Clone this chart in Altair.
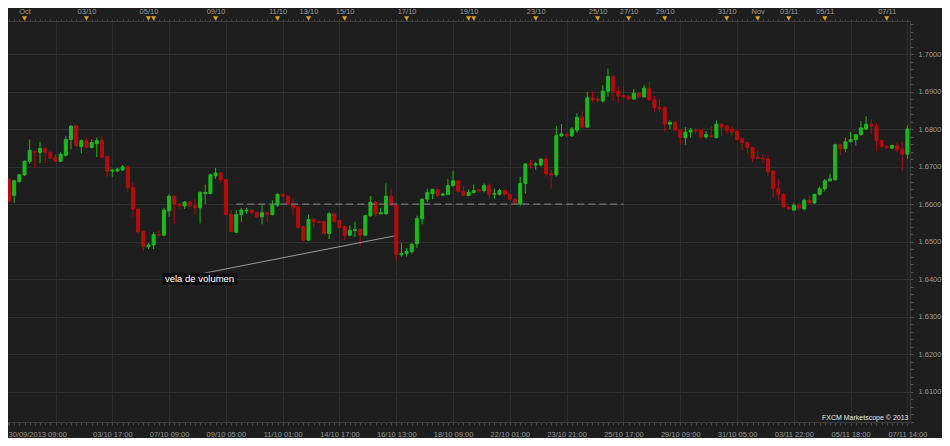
import altair as alt
import pandas as pd

# ---------------- data (4h candles) ----------------
opens = [1.6665,1.6623,1.6660,1.6678,1.6714,1.6740,1.6738,1.6748,1.6738,1.6725,
1.6714,1.6730,1.6772,1.6808,1.6753,1.6769,1.6751,1.6761,1.6769,1.6727,
1.6688,1.6688,1.6691,1.6699,1.6644,1.6587,1.6527,1.6486,1.6491,1.6519,
1.6517,1.6582,1.6621,1.6600,1.6595,1.6605,1.6595,1.6590,1.6628,1.6628,
1.6675,1.6683,1.6665,1.6572,1.6525,1.6572,1.6582,1.6584,1.6577,1.6566,
1.6577,1.6572,1.6597,1.6626,1.6621,1.6600,1.6592,1.6540,1.6504,1.6559,
1.6553,1.6553,1.6522,1.6574,1.6556,1.6540,1.6517,1.6530,1.6532,1.6517,
1.6569,1.6605,1.6574,1.6574,1.6621,1.6597,1.6465,1.6468,1.6473,1.6494,
1.6561,1.6613,1.6628,1.6639,1.6624,1.6626,1.6649,1.6662,1.6634,1.6623,
1.6631,1.6639,1.6636,1.6649,1.6626,1.6626,1.6636,1.6626,1.6613,1.6600,
1.6655,1.6707,1.6704,1.6704,1.6720,1.6681,1.6678,1.6782,1.6787,1.6782,
1.6797,1.6831,1.6805,1.6883,1.6880,1.6875,1.6901,1.6940,1.6901,1.6889,
1.6888,1.6880,1.6896,1.6886,1.6909,1.6878,1.6857,1.6857,1.6813,1.6818,
1.6797,1.6777,1.6792,1.6797,1.6797,1.6779,1.6782,1.6777,1.6813,1.6808,
1.6800,1.6795,1.6774,1.6764,1.6751,1.6725,1.6722,1.6720,1.6688,1.6641,
1.6626,1.6592,1.6584,1.6597,1.6587,1.6610,1.6603,1.6626,1.6641,1.6662,
1.6665,1.6758,1.6748,1.6766,1.6772,1.6785,1.6800,1.6813,1.6808,1.6769,
1.6753,1.6749,1.6756,1.6746,1.6733]
highs = [1.6670,1.6665,1.6680,1.6716,1.6772,1.6743,1.6766,1.6751,1.6740,1.6733,
1.6738,1.6782,1.6810,1.6813,1.6772,1.6777,1.6772,1.6777,1.6782,1.6730,
1.6694,1.6696,1.6704,1.6701,1.6657,1.6590,1.6530,1.6496,1.6525,1.6530,
1.6590,1.6626,1.6623,1.6603,1.6608,1.6608,1.6613,1.6634,1.6652,1.6681,
1.6696,1.6686,1.6667,1.6584,1.6584,1.6590,1.6590,1.6587,1.6579,1.6600,
1.6579,1.6610,1.6628,1.6628,1.6623,1.6615,1.6595,1.6543,1.6572,1.6561,
1.6556,1.6556,1.6579,1.6577,1.6559,1.6543,1.6543,1.6553,1.6535,1.6572,
1.6621,1.6608,1.6590,1.6655,1.6641,1.6600,1.6496,1.6483,1.6496,1.6569,
1.6615,1.6641,1.6641,1.6641,1.6630,1.6667,1.6688,1.6665,1.6649,1.6639,
1.6652,1.6641,1.6655,1.6655,1.6641,1.6641,1.6639,1.6628,1.6615,1.6673,
1.6709,1.6717,1.6712,1.6722,1.6730,1.6691,1.6808,1.6813,1.6790,1.6805,
1.6842,1.6847,1.6899,1.6901,1.6888,1.6917,1.6961,1.6943,1.6914,1.6914,
1.6890,1.6906,1.6899,1.6917,1.6925,1.6888,1.6880,1.6862,1.6823,1.6823,
1.6800,1.6805,1.6803,1.6803,1.6800,1.6795,1.6808,1.6823,1.6815,1.6810,
1.6808,1.6797,1.6777,1.6766,1.6753,1.6743,1.6733,1.6730,1.6691,1.6667,
1.6628,1.6595,1.6603,1.6603,1.6615,1.6623,1.6628,1.6647,1.6667,1.6681,
1.6761,1.6761,1.6777,1.6792,1.6787,1.6821,1.6834,1.6826,1.6816,1.6772,
1.6758,1.6758,1.6764,1.6766,1.6810]
lows = [1.6603,1.6603,1.6657,1.6675,1.6707,1.6696,1.6709,1.6709,1.6720,1.6712,
1.6712,1.6727,1.6746,1.6751,1.6735,1.6748,1.6748,1.6725,1.6722,1.6673,
1.6673,1.6686,1.6688,1.6631,1.6566,1.6522,1.6475,1.6480,1.6480,1.6514,
1.6514,1.6566,1.6546,1.6587,1.6587,1.6592,1.6572,1.6548,1.6600,1.6626,
1.6667,1.6657,1.6569,1.6525,1.6522,1.6553,1.6574,1.6574,1.6564,1.6546,
1.6551,1.6569,1.6592,1.6618,1.6597,1.6569,1.6535,1.6501,1.6501,1.6538,
1.6548,1.6519,1.6507,1.6551,1.6535,1.6504,1.6514,1.6512,1.6488,1.6514,
1.6566,1.6566,1.6572,1.6572,1.6595,1.6452,1.6460,1.6460,1.6468,1.6483,
1.6546,1.6605,1.6613,1.6621,1.6621,1.6623,1.6647,1.6631,1.6621,1.6621,
1.6628,1.6632,1.6631,1.6613,1.6613,1.6623,1.6623,1.6610,1.6600,1.6595,
1.6628,1.6694,1.6691,1.6701,1.6673,1.6641,1.6673,1.6779,1.6779,1.6779,
1.6790,1.6803,1.6803,1.6872,1.6870,1.6870,1.6886,1.6875,1.6870,1.6884,
1.6878,1.6878,1.6883,1.6883,1.6875,1.6844,1.6844,1.6792,1.6800,1.6795,
1.6758,1.6758,1.6777,1.6787,1.6772,1.6774,1.6777,1.6775,1.6782,1.6787,
1.6782,1.6769,1.6743,1.6733,1.6712,1.6720,1.6709,1.6673,1.6618,1.6610,
1.6590,1.6584,1.6582,1.6582,1.6584,1.6600,1.6600,1.6623,1.6634,1.6660,
1.6662,1.6730,1.6738,1.6764,1.6756,1.6782,1.6797,1.6787,1.6743,1.6751,
1.6748,1.6746,1.6738,1.6688,1.6720]
closes = [1.6608,1.6662,1.6678,1.6714,1.6743,1.6738,1.6748,1.6738,1.6722,1.6714,
1.6733,1.6772,1.6808,1.6756,1.6769,1.6751,1.6764,1.6769,1.6725,1.6688,
1.6690,1.6693,1.6699,1.6644,1.6587,1.6527,1.6486,1.6491,1.6519,1.6517,
1.6584,1.6621,1.6600,1.6595,1.6605,1.6595,1.6590,1.6631,1.6631,1.6678,
1.6683,1.6665,1.6572,1.6527,1.6572,1.6584,1.6584,1.6577,1.6566,1.6577,
1.6572,1.6597,1.6626,1.6621,1.6600,1.6590,1.6538,1.6504,1.6559,1.6553,
1.6551,1.6522,1.6574,1.6553,1.6538,1.6517,1.6530,1.6532,1.6517,1.6569,
1.6605,1.6574,1.6577,1.6621,1.6597,1.6465,1.6468,1.6473,1.6493,1.6561,
1.6613,1.6631,1.6639,1.6623,1.6627,1.6649,1.6662,1.6634,1.6623,1.6631,
1.6636,1.6635,1.6649,1.6626,1.6628,1.6636,1.6626,1.6613,1.6603,1.6655,
1.6707,1.6704,1.6707,1.6720,1.6681,1.6678,1.6782,1.6787,1.6782,1.6800,
1.6831,1.6805,1.6883,1.6878,1.6877,1.6901,1.6940,1.6901,1.6888,1.6886,
1.6880,1.6896,1.6886,1.6909,1.6878,1.6857,1.6854,1.6813,1.6818,1.6797,
1.6777,1.6792,1.6797,1.6795,1.6779,1.6785,1.6780,1.6813,1.6805,1.6797,
1.6792,1.6772,1.6764,1.6751,1.6722,1.6722,1.6720,1.6686,1.6641,1.6626,
1.6592,1.6587,1.6597,1.6590,1.6610,1.6603,1.6626,1.6641,1.6662,1.6667,
1.6758,1.6748,1.6766,1.6772,1.6785,1.6803,1.6813,1.6808,1.6769,1.6753,
1.6750,1.6756,1.6744,1.6733,1.6800]

# bottom time labels (candle index -> text); grid every 11 candles
bottom_idx = [-0.2, 9, 20, 31, 42, 53, 64, 75, 86, 97, 108, 119, 130, 141, 152, 163, 174]
bottom_txt = ["30/09/2013 09:00", "", "03/10 17:00", "07/10 09:00", "09/10 05:00",
              "11/10 01:00", "14/10 17:00", "16/10 13:00", "18/10 09:00", "22/10 01:00",
              "23/10 21:00", "25/10 17:00", "29/10 09:00", "31/10 05:00", "03/11 22:00",
              "05/11 18:00", "07/11 14:00"]
# top day markers
top_idx = [3, 15, 27, 40, 52, 58, 65, 77, 89, 102, 114, 120, 127, 139, 145, 151, 158, 170]
top_txt = ["Oct", "03/10", "05/10", "09/10", "11/10", "13/10", "15/10", "17/10", "19/10",
           "23/10", "25/10", "27/10", "29/10", "31/10", "Nov", "03/11", "05/11", "07/11"]
marker_idx = top_idx + [28, 90]

# price ticks every 0.002, labels / grid every 0.01
tick_prices = [round(1.602 + 0.002 * k, 3) for k in range(54)]

# annotations
level_price = 1.6600
level_from, level_to = 44, 119
note_text = "vela de volumen"
note_line = {"i": 34.2, "p": 1.6406, "i2": 74.6, "p2": 1.6515}
note_pos = {"i": 36.9, "p": 1.6400}
note_box = {"i": 29.8, "i2": 44.2, "p": 1.6417, "p2": 1.6384}
credit = "FXCM Marketscope \u00a9 2013"

# ---------------- styling ----------------
BG = "#1e1e1e"
GRID = "#2f2f2f"
AX = "#9a9a9a"
LINE = "#3c3c3c"
UP = "#1db81d"
DOWN = "#b40c0c"
FONT = "Liberation Sans"

df = pd.DataFrame({"i": list(range(len(opens))), "open": opens, "high": highs,
                   "low": lows, "close": closes})
df["dir"] = ["up" if c >= o else "down" for o, c in zip(opens, closes)]

xscale = alt.Scale(domain=[-0.2, 174.5], nice=False, zero=False, padding=0)
yscale = alt.Scale(domain=[1.6019, 1.7088], nice=False, zero=False, padding=0)
color = alt.Color("dir:N", scale=alt.Scale(domain=["up", "down"], range=[UP, DOWN]), legend=None)


def ternary(vals, txts):
    parts = [f"datum.value == {v} ? '{t}'" for v, t in zip(vals, txts)]
    return " : ".join(parts) + " : ''"


all_idx = [-0.2] + list(range(0, len(opens)))
grid_set = "indexof([" + ",".join(str(v) for v in bottom_idx[1:]) + "], datum.value) >= 0"

bottom_axis = alt.Axis(
    orient="bottom", values=all_idx, labelExpr=ternary(bottom_idx, bottom_txt),
    grid=True, gridColor=GRID, gridWidth=1,
    gridOpacity={"condition": {"test": grid_set, "value": 1}, "value": 0},
    domain=True, domainColor=LINE, ticks=True, tickColor="#4a4a4a", tickSize=3,
    labelColor=AX, labelFont=FONT, labelFontSize=7.5, labelPadding=5,
    labelAlign={"condition": {"test": "datum.value < 0", "value": "left"}, "value": "center"},
    labelOverlap=False, labelBound=False, labelFlush=False, title=None)

top_axis = alt.Axis(
    orient="top", values=list(range(0, len(opens))), labelExpr=ternary(top_idx, top_txt),
    grid=False, domain=True, domainColor=LINE, ticks=True, tickColor="#4a4a4a", tickSize=2,
    labelColor=AX, labelFont=FONT, labelFontSize=7.5, labelPadding=4,
    labelOverlap=False, labelBound=False, labelFlush=False, title=None)

major_test = "abs(datum.value*100 - round(datum.value*100)) < 0.01"
right_axis = alt.Axis(
    orient="right", values=tick_prices,
    labelExpr=f"{major_test} ? format(datum.value, '.4f') : ''",
    grid=True, gridColor=GRID, gridWidth=1,
    gridOpacity={"condition": {"test": major_test, "value": 1}, "value": 0},
    domain=True, domainColor=LINE, ticks=True, tickColor="#555555", tickSize=3,
    labelColor=AX, labelFont=FONT, labelFontSize=7.5, labelPadding=5,
    labelOverlap=False, labelBound=False, labelFlush=False, title=None)

base = alt.Chart(df)

wicks = base.mark_rule(strokeWidth=1).encode(
    x=alt.X("i:Q", scale=xscale, axis=bottom_axis),
    y=alt.Y("low:Q", scale=yscale, axis=right_axis),
    y2="high:Q",
    color=color,
)

bodies = base.mark_bar(size=3, strokeWidth=1).encode(
    x=alt.X("i:Q", scale=xscale, axis=None),
    y=alt.Y("open:Q", scale=yscale, axis=None),
    y2="close:Q",
    color=color,
    stroke=color,
)

marks_df = pd.DataFrame({"i": marker_idx})
markers = alt.Chart(marks_df).mark_point(
    shape="triangle-down", filled=True, size=26, color="#d9a21b", opacity=1
).encode(
    x=alt.X("i:Q", scale=xscale, axis=top_axis),
    y=alt.value(-2.5),
)

level = alt.Chart(pd.DataFrame({"i": [level_from], "i2": [level_to], "p": [level_price]})).mark_rule(
    color="#8c8c8c", strokeDash=[7, 4], strokeWidth=1
).encode(
    x=alt.X("i:Q", scale=xscale, axis=None), x2="i2:Q",
    y=alt.Y("p:Q", scale=yscale, axis=None),
)

note_l = alt.Chart(pd.DataFrame([note_line])).mark_rule(color="#9a9a9a", strokeWidth=1).encode(
    x=alt.X("i:Q", scale=xscale, axis=None), x2="i2:Q",
    y=alt.Y("p:Q", scale=yscale, axis=None), y2="p2:Q",
)

note_b = alt.Chart(pd.DataFrame([note_box])).mark_rect(color="#0d0d0d").encode(
    x=alt.X("i:Q", scale=xscale, axis=None), x2="i2:Q",
    y=alt.Y("p:Q", scale=yscale, axis=None), y2="p2:Q",
)

note_t = alt.Chart(pd.DataFrame([dict(note_pos, t=note_text)])).mark_text(
    color="#ffffff", font=FONT, fontSize=9.5, align="center", baseline="middle"
).encode(
    x=alt.X("i:Q", scale=xscale, axis=None),
    y=alt.Y("p:Q", scale=yscale, axis=None),
    text="t:N",
)

credit_t = alt.Chart(pd.DataFrame({"i": [174.2], "p": [1.6029], "t": [credit]})).mark_text(
    color="#e6e6e6", font=FONT, fontSize=7, align="right", baseline="middle"
).encode(
    x=alt.X("i:Q", scale=xscale, axis=None),
    y=alt.Y("p:Q", scale=yscale, axis=None),
    text="t:N",
)

chart = alt.layer(
    wicks, bodies, level, note_l, note_b, note_t, credit_t, markers
).resolve_axis(x="independent", y="independent").properties(
    width=902, height=401,
    autosize=alt.AutoSizeParams(type="none"),
    padding={"left": 0, "top": 13, "right": 32, "bottom": 16},
    background=BG,
).configure_view(fill=BG, stroke=None)

chart.save("out.html", embed_options={"renderer": "svg", "actions": False})
